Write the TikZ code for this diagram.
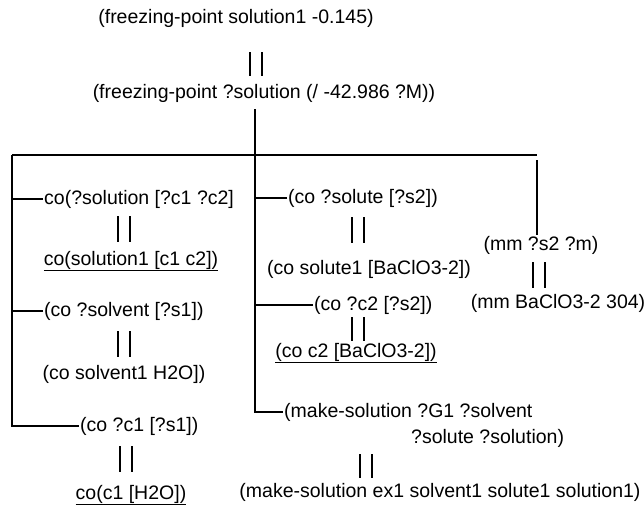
\documentclass[tikz,border=0pt]{standalone}
\usepackage{fontspec}
\setmainfont{Liberation Sans}
\usetikzlibrary{positioning}

\begin{document}
\begin{tikzpicture}[x=1pt, y=-1pt,
    term/.style={inner sep=1pt, font=\fontsize{19.5}{21}\selectfont},
    wire/.style={line width=1.6pt},
    bar/.style={line width=1.8pt},
  ]
    \useasboundingbox (0,0) rectangle (644,506);

    % Kopf
    \node[term] (fp1) at (236,18) {(freezing-point solution1 -0.145)};
    \node[term] (fp2) at (264,93) {(freezing-point ?solution (/ -42.986 ?M))};

    % Linke Spalte
    \node[term, anchor=west] (a1) at (43,199) {co(?solution [?c1 ?c2]};
    \node[term] (a2) at (131,261) {\underline{co(solution1 [c1 c2])}};
    \node[term, anchor=west] (a3) at (43,311) {(co ?solvent [?s1])};
    \node[term] (a4) at (124,374) {(co solvent1 H2O])};
    \node[term, anchor=west] (a5) at (79,426) {(co ?c1 [?s1])};
    \node[term] (a6) at (131,495) {\underline{co(c1 [H2O])}};

    % Mittlere Spalte
    \node[term, anchor=west] (b1) at (287,198) {(co ?solute [?s2])};
    \node[term] (b2) at (369,269) {(co solute1 [BaClO3-2])};
    \node[term, anchor=west] (b3) at (313,305) {(co ?c2 [?s2])};
    \node[term] (b4) at (356,353) {\underline{(co c2 [BaClO3-2])}};
    \node[term, anchor=west] (b5) at (283,412) {(make-solution ?G1 ?solvent};
    \node[term, anchor=west] (b6) at (410,438) {?solute ?solution)};
    \node[term] (b7) at (440,492) {(make-solution ex1 solvent1 solute1 solution1)};

    % Rechte Spalte
    \node[term] (c1) at (541,245) {(mm ?s2 ?m)};
    \node[term] (c2) at (558,303) {(mm BaClO3-2 304)};

    % Baum
    \coordinate (hub) at (255,155);
    \coordinate (lt) at (12,155);
    \coordinate (rt) at (537,155);
    \draw[wire] (lt) -- (rt);
    \draw[wire] (lt) |- (a5.west);
    \draw[wire] ([yshift=-6pt]fp2.south -| hub) |- (b5.west);
    \draw[wire] ([yshift=-5pt]rt) -- (rt |- c1.north);
    \foreach \n in {a1,a3}
      \draw[wire] (\n.west) -- (\n.west -| lt);
    \foreach \n in {b1,b3}
      \draw[wire] (\n.west) -- (\n.west -| hub);

    % Gleichheitsstriche
    \foreach \x/\y/\h in {250/52/24, 118/216/26, 118/331/26, 120/446/26,
                          352/217/26, 352/317/24, 360/454/24, 533/262/26}
      \draw[bar] (\x,\y) -- ++(0,\h) (\x+12,\y) -- ++(0,\h);
  \end{tikzpicture}
\end{document}
